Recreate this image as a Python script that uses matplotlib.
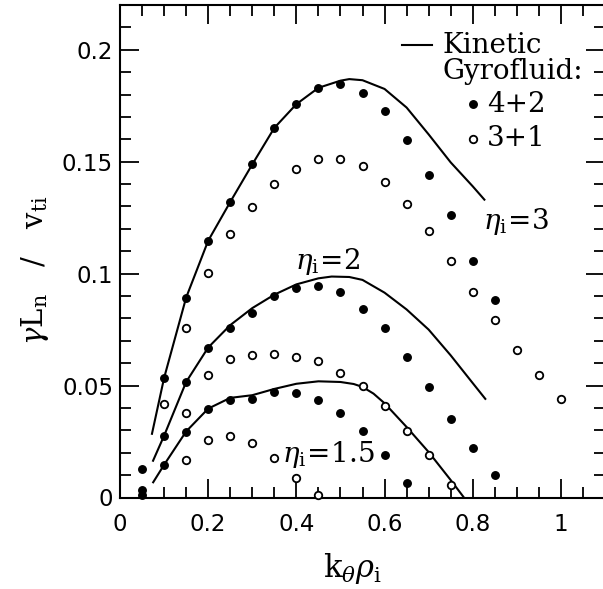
import numpy as np
import matplotlib
matplotlib.use("Agg")
import matplotlib.pyplot as plt
from matplotlib.ticker import MultipleLocator, FixedLocator, FixedFormatter

plt.rcParams['mathtext.fontset'] = 'dejavuserif'
plt.rcParams['font.family'] = 'DejaVu Serif'

# gyrofluid 4+2 (filled) and 3+1 (open) growth rates
k3_filled = [0.05, 0.10, 0.15, 0.20, 0.25, 0.30, 0.35, 0.40, 0.45, 0.50, 0.55, 0.60, 0.65, 0.70, 0.75, 0.80, 0.85]
g3_filled = [0.0128, 0.0532, 0.0893, 0.1147, 0.1319, 0.1488, 0.1651, 0.1756, 0.1830, 0.1848, 0.1805, 0.1727, 0.1597, 0.1439, 0.1263, 0.1055, 0.0881]
k3_open = [0.10, 0.15, 0.20, 0.25, 0.30, 0.35, 0.40, 0.45, 0.50, 0.55, 0.60, 0.65, 0.70, 0.75, 0.80, 0.85, 0.90, 0.95, 1.00]
g3_open = [0.0419, 0.0756, 0.1005, 0.1177, 0.1297, 0.1401, 0.1469, 0.1510, 0.1510, 0.1479, 0.1409, 0.1309, 0.1189, 0.1055, 0.0916, 0.0791, 0.0661, 0.0549, 0.0442]

k2_filled = [0.05, 0.10, 0.15, 0.20, 0.25, 0.30, 0.35, 0.40, 0.45, 0.50, 0.55, 0.60, 0.65, 0.70, 0.75, 0.80, 0.85]
g2_filled = [0.0035, 0.0276, 0.0516, 0.0666, 0.0756, 0.0823, 0.0898, 0.0935, 0.0945, 0.0916, 0.0844, 0.0759, 0.0629, 0.0492, 0.0350, 0.0219, 0.0101]
k2_open = [0.15, 0.20, 0.25, 0.30, 0.35, 0.40, 0.45, 0.50, 0.55, 0.60, 0.65, 0.70, 0.75]
g2_open = [0.0377, 0.0545, 0.0617, 0.0636, 0.0642, 0.0627, 0.0609, 0.0557, 0.0500, 0.0410, 0.0296, 0.0189, 0.0054]

k15_filled = [0.05, 0.10, 0.15, 0.20, 0.25, 0.30, 0.35, 0.40, 0.45, 0.50, 0.55, 0.60, 0.65]
g15_filled = [0.0012, 0.0146, 0.0291, 0.0396, 0.0434, 0.0442, 0.0472, 0.0467, 0.0437, 0.0378, 0.0296, 0.0188, 0.0065]
k15_open = [0.15, 0.20, 0.25, 0.30, 0.35, 0.40, 0.45]
g15_open = [0.0166, 0.0256, 0.0276, 0.0243, 0.0176, 0.0086, 0.0010]

# kinetic curves
kin3_k = [0.072, 0.10, 0.15, 0.20, 0.25, 0.30, 0.35, 0.40, 0.45, 0.50, 0.52, 0.55, 0.60, 0.65, 0.70, 0.75, 0.80, 0.828]
kin3_g = [0.0280, 0.0534, 0.0893, 0.1147, 0.1320, 0.1488, 0.1651, 0.1757, 0.1830, 0.1862, 0.1869, 0.1864, 0.1825, 0.1742, 0.1622, 0.1497, 0.1390, 0.1327]
kin2_k = [0.074, 0.10, 0.15, 0.20, 0.25, 0.30, 0.35, 0.40, 0.45, 0.48, 0.52, 0.55, 0.60, 0.65, 0.70, 0.75, 0.80, 0.83]
kin2_g = [0.0160, 0.0276, 0.0516, 0.0670, 0.0770, 0.0846, 0.0906, 0.0952, 0.0979, 0.0987, 0.0985, 0.0972, 0.0915, 0.0840, 0.0750, 0.0635, 0.0511, 0.0437]
kin15_k = [0.074, 0.10, 0.15, 0.20, 0.25, 0.30, 0.35, 0.40, 0.45, 0.50, 0.53, 0.55, 0.575, 0.60, 0.65, 0.70, 0.75, 0.78]
kin15_g = [0.0064, 0.0146, 0.0295, 0.0397, 0.0445, 0.0457, 0.0485, 0.0508, 0.0519, 0.0516, 0.0507, 0.0494, 0.0464, 0.0421, 0.0315, 0.0203, 0.0078, 0.0]

x_ticks = [0, 0.2, 0.4, 0.6, 0.8, 1.0]
x_labels = ['0', '0.2', '0.4', '0.6', '0.8', '1']
y_ticks = [0, 0.05, 0.1, 0.15, 0.2]
y_labels = ['0', '0.05', '0.1', '0.15', '0.2']

fig = plt.figure(figsize=(6.03, 5.89), dpi=100)
ax = fig.add_axes([120 / 603, 91.5 / 589, 485 / 603, 492.5 / 589])

line_kw = dict(color='black', lw=1.5, solid_capstyle='butt')
ax.plot(kin3_k, kin3_g, **line_kw)
ax.plot(kin2_k, kin2_g, **line_kw)
ax.plot(kin15_k, kin15_g, **line_kw)

filled_kw = dict(ls='none', marker='o', ms=5.4, mfc='black', mec='black', clip_on=False)
open_kw = dict(ls='none', marker='o', ms=5.4, mfc='white', mec='black', mew=1.3, clip_on=False)
for kk, gg in [(k3_filled, g3_filled), (k2_filled, g2_filled), (k15_filled, g15_filled)]:
    ax.plot(kk, gg, zorder=4, **filled_kw)
for kk, gg in [(k3_open, g3_open), (k2_open, g2_open), (k15_open, g15_open)]:
    ax.plot(kk, gg, zorder=4, **open_kw)

ax.set_xlim(0, 1.1)
ax.set_ylim(0, 0.22)

ax.xaxis.set_major_locator(FixedLocator(x_ticks))
ax.xaxis.set_major_formatter(FixedFormatter(x_labels))
ax.xaxis.set_minor_locator(MultipleLocator(0.05))
ax.yaxis.set_major_locator(FixedLocator(y_ticks))
ax.yaxis.set_major_formatter(FixedFormatter(y_labels))
ax.yaxis.set_minor_locator(MultipleLocator(0.01))

ax.tick_params(which='both', direction='in', top=True, right=True, width=1.3, color='black')
ax.tick_params(which='major', length=14)
ax.tick_params(which='minor', length=8)
ax.tick_params(axis='x', which='major', pad=11)
ax.tick_params(axis='y', which='major', pad=5)
for lab in ax.get_xticklabels() + ax.get_yticklabels():
    lab.set_fontfamily('DejaVu Sans')
    lab.set_fontsize(16.5)
for sp in ax.spines.values():
    sp.set_linewidth(1.5)

# curve labels
ax.text(0.898, 0.1235, r'$\eta_{\mathrm{i}}\!=\!3$', fontsize=20, ha='center', va='center')
ax.text(0.472, 0.1056, r'$\eta_{\mathrm{i}}\!=\!2$', fontsize=20, ha='center', va='center')
ax.text(0.472, 0.0190, r'$\eta_{\mathrm{i}}\!=\!1.5$', fontsize=20, ha='center', va='center')

# legend, laid out by hand like the original
ax.plot([0.639, 0.707], [0.202, 0.202], color='black', lw=1.5)
ax.text(0.732, 0.202, 'Kinetic', fontsize=20, ha='left', va='center')
ax.text(0.732, 0.1903, 'Gyrofluid:', fontsize=20, ha='left', va='center')
ax.plot([0.80], [0.1756], **filled_kw)
ax.text(0.832, 0.1756, '4+2', fontsize=20, ha='left', va='center')
ax.plot([0.80], [0.1603], **open_kw)
ax.text(0.832, 0.1603, '3+1', fontsize=20, ha='left', va='center')

fig.text(35 / 603, 1 - 270 / 589, r'$\gamma\mathrm{L_n}$   /   $\mathrm{v_{ti}}$', rotation=90,
         fontsize=21, ha='center', va='center')
fig.text(352 / 603, 1 - 569 / 589, r'$\mathrm{k}_\theta\rho_\mathrm{i}$', fontsize=22,
         ha='center', va='center')

fig.savefig('out.png', dpi=100)
